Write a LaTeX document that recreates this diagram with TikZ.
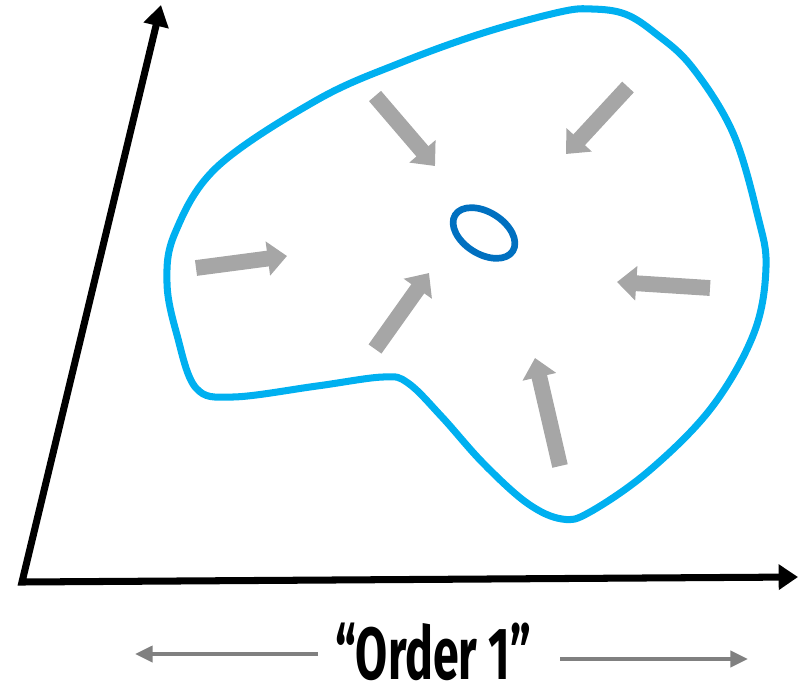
\documentclass[tikz,border=0pt]{standalone}
\usepackage{graphicx}
\usepackage{fontspec}
\newfontfamily\orderfont{Fira Sans}
\usetikzlibrary{arrows.meta}
\definecolor{blobblue}{HTML}{00B0F0}
\definecolor{coreblue}{HTML}{0070C0}
\definecolor{pushgray}{HTML}{A6A6A6}
\definecolor{ordergray}{HTML}{808080}

\begin{document}
\begin{tikzpicture}[x=0.02cm,y=-0.02cm,line join=round,
  pusharrow/.style={pushgray,line width=9pt,-{Triangle[length=11pt,width=19pt]}},
  orderarrow/.style={ordergray,line width=2.3pt,-{Triangle[length=10pt,width=9pt]}}]
  \useasboundingbox (0,0) rectangle (798,687);
  % Achsen
  \draw[line width=4pt,line join=miter,{Triangle[length=12pt,width=14pt]}-{Triangle[length=11pt,width=14pt]}]
    (161,5) -- (22,582) -- (798,577);
  % Gebiet
  \draw[blobblue,line width=4pt] plot[smooth cycle,tension=0.6] coordinates {
    (592,9) (625,14) (655,33) (692,67) (733,133) (758,217) (766,267) (754,333)
    (712,407) (650,470) (590,512) (562,519) (527,503) (483,463) (442,417)
    (408,383) (383,377) (317,386) (233,397) (196,388) (177,335) (167,283)
    (175,233) (217,167) (317,100) (400,63) (483,33) (560,12)};
  % Minimum
  \draw[coreblue,line width=3.8pt,rotate around={-32:(484,233)}] (484,233) ellipse (34 and 21);
  % Pfeile nach innen
  \draw[pusharrow] (375,96) -- (435,166);
  \draw[pusharrow] (628,87) -- (566,154);
  \draw[pusharrow] (375,349) -- (429,273);
  \draw[pusharrow] (196,268) -- (287,256);
  \draw[pusharrow] (710,288) -- (617,282);
  \draw[pusharrow] (560,466) -- (535,358);
  % Beschriftung
  \node[anchor=base,inner sep=0pt] (order) at (433,679)
    {\scalebox{0.63}[1]{\orderfont\bfseries\fontsize{42}{42}\selectfont “Order 1”}};
  \coordinate (ltail) at (318,654);
  \coordinate (ltip) at (135,654);
  \coordinate (rtail) at (560,659);
  \coordinate (rtip) at (748,659);
  \draw[orderarrow] (ltail) -- (ltip);
  \draw[orderarrow] (rtail) -- (rtip);
\end{tikzpicture}
\end{document}
